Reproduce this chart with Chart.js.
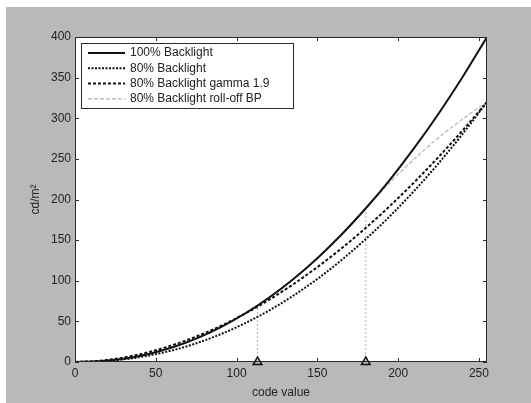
<!DOCTYPE html>
<html>
<head>
<meta charset="utf-8">
<script src="https://cdn.jsdelivr.net/npm/chart.js@4.4.0/dist/chart.umd.min.js"></script>
<style>
  html, body { margin: 0; padding: 0; background: #fff; }
  #frame { position: absolute; left: 6px; top: 7px; width: 525px; height: 396px; background: #b9b9b9; }
  canvas { display: block; }
</style>
</head>
<body>
<div id="frame"><canvas id="chart" width="525" height="396"></canvas></div>
<script>
// Values
const codeValues   = [0, 15, 30, 45, 60, 75, 90, 105, 120, 135, 150, 165, 180, 195, 210, 225, 240, 255];
const backlight100 = [0, 0.9, 4.0, 9.6, 17.8, 28.8, 42.6, 59.4, 79.1, 101.9, 127.8, 156.9, 189.2, 224.6, 263.5, 305.6, 351.1, 400];
const backlight80  = [0, 0.7, 3.2, 7.7, 14.2, 23.0, 34.1, 47.5, 63.3, 81.5, 102.2, 125.5, 151.4, 179.7, 210.8, 244.5, 280.9, 320];
const gamma19      = [0, 1.5, 5.5, 11.8, 20.5, 31.3, 44.2, 59.3, 76.4, 95.6, 116.8, 139.9, 165.1, 192.2, 221.3, 252.3, 285.2, 320];
const rollOffBP    = [0, 0.9, 4.0, 9.6, 17.8, 28.8, 42.6, 59.4, 79.1, 101.9, 127.8, 156.9, 189.2, 221.0, 250.0, 276.0, 299.0, 320];

const markerCodes = [113, 180];
const markerTops  = [70, 188];

const xTicks = [0, 50, 100, 150, 200, 250];
const yTicks = [0, 50, 100, 150, 200, 250, 300, 350, 400];

const FONT = '"Liberation Sans", Arial, sans-serif';

function pts(ys) {
    return codeValues.map((x, i) => ({ x: x, y: ys[i] }));
}

// white plot area, full box, inward ticks and legend drawn like the original
const matlabAxes = {
    id: 'matlabAxes',
    beforeDraw(chart) {
        const { ctx, chartArea: a } = chart;
        ctx.save();
        ctx.fillStyle = '#fff';
        ctx.fillRect(a.left, a.top, a.right - a.left, a.bottom - a.top);
        ctx.restore();
    },
    afterDatasetsDraw(chart) {
        const { ctx, chartArea: a, scales } = chart;
        ctx.save();
        ctx.strokeStyle = '#2a2a2a';
        ctx.lineWidth = 1;
        ctx.strokeRect(Math.round(a.left) + 0.5, Math.round(a.top) + 0.5,
            Math.round(a.right - a.left) - 1, Math.round(a.bottom - a.top) - 1);
        ctx.beginPath();
        xTicks.forEach(v => {
            const px = Math.round(scales.x.getPixelForValue(v)) + 0.5;
            ctx.moveTo(px, a.bottom); ctx.lineTo(px, a.bottom - 4);
            ctx.moveTo(px, a.top); ctx.lineTo(px, a.top + 4);
        });
        yTicks.forEach(v => {
            const py = Math.round(scales.y.getPixelForValue(v)) + 0.5;
            ctx.moveTo(a.left, py); ctx.lineTo(a.left + 4, py);
            ctx.moveTo(a.right, py); ctx.lineTo(a.right - 4, py);
        });
        ctx.stroke();

        // legend
        const items = chart.data.datasets.filter(d => d.inLegend);
        const bx = 75, by = 36, bw = 212, bh = 65;
        ctx.fillStyle = '#fff';
        ctx.fillRect(bx, by, bw, bh);
        ctx.strokeStyle = '#2a2a2a';
        ctx.strokeRect(bx + 0.5, by + 0.5, bw, bh);
        ctx.font = '12px ' + FONT;
        ctx.textBaseline = 'middle';
        items.forEach((d, i) => {
            const y = by + 10 + i * 15.3;
            ctx.beginPath();
            ctx.strokeStyle = d.borderColor;
            ctx.lineWidth = d.borderWidth;
            ctx.setLineDash(d.borderDash || []);
            ctx.moveTo(bx + 7, y); ctx.lineTo(bx + 44, y);
            ctx.stroke();
            ctx.setLineDash([]);
            ctx.fillStyle = '#222';
            ctx.fillText(d.label, bx + 49, y);
        });
        ctx.restore();
    }
};

const curveBase = {
    pointRadius: 0,
    cubicInterpolationMode: 'monotone',
    fill: false,
    inLegend: true
};

new Chart(document.getElementById('chart'), {
    type: 'line',
    data: {
        datasets: [
            Object.assign({}, curveBase, {
                label: '100% Backlight', data: pts(backlight100),
                borderColor: '#111', borderWidth: 2, order: 1
            }),
            Object.assign({}, curveBase, {
                label: '80% Backlight', data: pts(backlight80),
                borderColor: '#111', borderWidth: 2, borderDash: [2, 1.5], order: 2
            }),
            Object.assign({}, curveBase, {
                label: '80% Backlight gamma 1.9', data: pts(gamma19),
                borderColor: '#111', borderWidth: 2, borderDash: [3, 2], order: 3
            }),
            Object.assign({}, curveBase, {
                label: '80% Backlight roll-off BP', data: pts(rollOffBP),
                borderColor: '#b4b4b4', borderWidth: 1.2, borderDash: [4, 2], order: 5
            }),
            {
                label: 'marker line 1',
                data: [{ x: markerCodes[0], y: 0 }, { x: markerCodes[0], y: markerTops[0] }],
                borderColor: '#b0b0b0', borderWidth: 1, borderDash: [2, 2], pointRadius: 0, order: 6
            },
            {
                label: 'marker line 2',
                data: [{ x: markerCodes[1], y: 0 }, { x: markerCodes[1], y: markerTops[1] }],
                borderColor: '#b0b0b0', borderWidth: 1, borderDash: [2, 2], pointRadius: 0, order: 6
            },
            {
                label: 'markers',
                data: markerCodes.map(x => ({ x: x, y: 0 })),
                showLine: false, pointStyle: 'triangle', pointRadius: 5,
                pointBorderColor: '#111', pointBackgroundColor: 'rgba(255,255,255,0)',
                pointBorderWidth: 1.5, clip: false, order: 0
            }
        ]
    },
    options: {
        responsive: false,
        animation: false,
        events: [],
        layout: { padding: { left: 0, top: 30, right: 44, bottom: 0 } },
        plugins: {
            legend: { display: false },
            tooltip: { enabled: false }
        },
        scales: {
            x: {
                type: 'linear', min: 0, max: 255,
                afterFit(s) { s.height = 41; },
                afterBuildTicks(s) { s.ticks = xTicks.map(v => ({ value: v })); },
                grid: { display: false, drawTicks: false },
                border: { display: false },
                ticks: { padding: 4, color: '#222', font: { family: FONT, size: 12 }, maxRotation: 0 },
                title: { display: true, text: 'code value', color: '#222',
                         font: { family: FONT, size: 12 }, padding: { top: 0, bottom: 3 } }
            },
            y: {
                type: 'linear', min: 0, max: 400,
                afterFit(s) { s.width = 69; },
                afterBuildTicks(s) { s.ticks = yTicks.map(v => ({ value: v })); },
                grid: { display: false, drawTicks: false },
                border: { display: false },
                ticks: { padding: 4, color: '#222', font: { family: FONT, size: 12 } },
                title: { display: true, text: 'cd/m²', color: '#222',
                         font: { family: FONT, size: 12 }, padding: { top: 22, bottom: 0 } }
            }
        }
    },
    plugins: [matlabAxes]
});
</script>
</body>
</html>
